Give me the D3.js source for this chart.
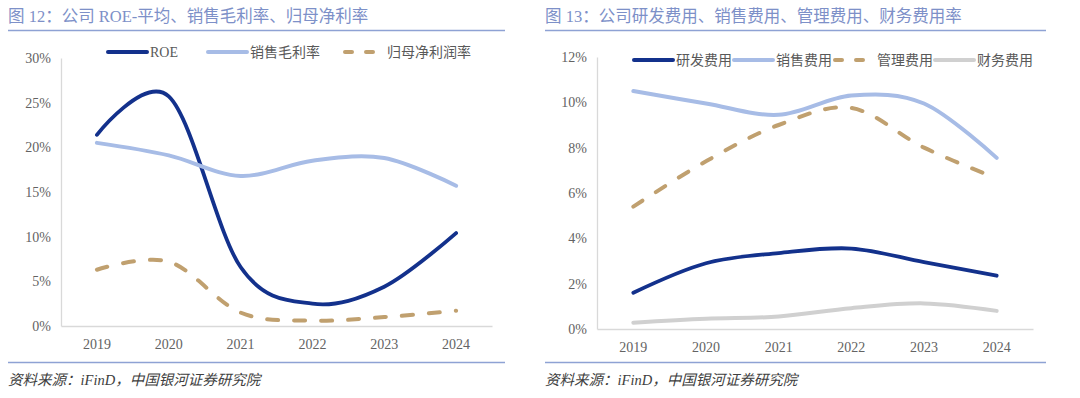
<!DOCTYPE html>
<html>
<head>
<meta charset="utf-8">
<script src="https://cdn.jsdelivr.net/npm/d3@7"></script>
<style>
  body { margin: 0; background: #fff; }
  svg { display: block; }
  .title { font-family: "Liberation Serif", "Noto Sans CJK SC", serif; font-size: 16.5px; fill: #7d90c8; }
  .tick text { font-family: "Liberation Serif", "DejaVu Serif", serif; font-size: 14px; fill: #636363; }
  .legend text { font-family: "Liberation Serif", "Noto Sans CJK SC", serif; font-size: 14px; fill: #595959; }
  .source { font-family: "Liberation Serif", "Noto Sans CJK SC", serif; font-size: 14.5px; font-style: italic; fill: #404040; }
</style>
</head>
<body>
<svg id="chart" width="1080" height="398"></svg>
<script>
// shared categories
var years = ["2019", "2020", "2021", "2022", "2023", "2024"];

// figure 12
var roe = [21.4, 25.7, 6.6, 2.5, 4.4, 10.4];
var grossMargin = [20.5, 19.1, 16.8, 18.5, 18.8, 15.7];
var netMargin = [6.3, 7.2, 1.5, 0.6, 1.0, 1.7];
var ticks12 = [0, 5, 10, 15, 20, 25, 30];

// figure 13
var rnd = [1.6, 2.9, 3.35, 3.55, 2.95, 2.35];
var selling = [10.5, 9.95, 9.45, 10.3, 9.95, 7.55];
var admin = [5.4, 7.4, 9.0, 9.75, 8.0, 6.65];
var finance = [0.28, 0.45, 0.55, 0.92, 1.13, 0.8];
var ticks13 = [0, 2, 4, 6, 8, 10, 12];

var NAVY = "#13318c", LIGHT = "#a7bce6", TAN = "#c0a06f", GREY = "#d0d0d0";

var svg = d3.select("#chart");

function panel(opt) {
  var g = svg.append("g");

  g.append("text").attr("class", "title")
    .attr("x", opt.left).attr("y", 22).text(opt.title);
  g.append("line").attr("x1", opt.left).attr("x2", opt.right)
    .attr("y1", 30.5).attr("y2", 30.5).attr("stroke", "#8ea2d4").attr("stroke-width", 1.3);
  g.append("line").attr("x1", opt.left).attr("x2", opt.right)
    .attr("y1", 362.5).attr("y2", 362.5).attr("stroke", "#8ea2d4").attr("stroke-width", 1.3);
  g.append("text").attr("class", "source")
    .attr("x", opt.left).attr("y", 385).text("资料来源：iFinD，中国银河证券研究院");

  var x = d3.scaleBand().domain(years).range([opt.x0, opt.x1]);
  var y = d3.scaleLinear().domain(d3.extent(opt.ticks)).range([opt.y0, opt.y1]);

  // axes
  var xAxis = d3.axisBottom(x).tickSize(0).tickPadding(13);
  var gx = g.append("g").attr("transform", "translate(0," + opt.y0 + ")").call(xAxis);
  gx.select(".domain").attr("stroke", "#d9d9d9").attr("stroke-width", 1.3);

  var yAxis = d3.axisLeft(y).tickValues(opt.ticks).tickSize(0).tickPadding(10)
    .tickFormat(function (d) { return d + "%"; });
  var gy = g.append("g").attr("transform", "translate(" + opt.x0 + ",0)").call(yAxis);
  gy.select(".domain").attr("stroke", "#d9d9d9").attr("stroke-width", 1.3);

  var line = d3.line()
    .x(function (d, i) { return x(years[i]) + x.bandwidth() / 2; })
    .y(function (d) { return y(d); })
    .curve(d3.curveCardinal.tension(0));

  opt.series.forEach(function (s) {
    g.append("path").datum(s.values)
      .attr("d", line)
      .attr("fill", "none")
      .attr("stroke", s.color)
      .attr("stroke-width", s.width)
      .attr("stroke-linecap", "round")
      .attr("stroke-dasharray", s.dash ? "11,16" : null);
  });

  // legend
  var lg = g.append("g").attr("class", "legend");
  opt.series.forEach(function (s, i) {
    var lx = opt.legendX[i];
    lg.append("line").attr("x1", lx).attr("x2", lx + 39)
      .attr("y1", opt.legendY).attr("y2", opt.legendY)
      .attr("stroke", s.color).attr("stroke-width", 4)
      .attr("stroke-linecap", "round")
      .attr("stroke-dasharray", s.dash ? "7,14" : null);
    lg.append("text").attr("x", lx + 42).attr("y", opt.legendY + 5).text(s.name);
  });
}

panel({
  title: "图 12：公司 ROE-平均、销售毛利率、归母净利率",
  left: 8, right: 505,
  x0: 61, x1: 492, y0: 326, y1: 58,
  ticks: ticks12,
  legendY: 52,
  legendX: [108, 208, 345],
  series: [
    { name: "ROE", values: roe, color: NAVY, width: 3.8 },
    { name: "销售毛利率", values: grossMargin, color: LIGHT, width: 4 },
    { name: "归母净利润率", values: netMargin, color: TAN, width: 4, dash: true }
  ]
});

panel({
  title: "图 13：公司研发费用、销售费用、管理费用、财务费用率",
  left: 545, right: 1046,
  x0: 597, x1: 1033, y0: 329, y1: 57,
  ticks: ticks13,
  legendY: 60,
  legendX: [634, 734, 835, 935],
  series: [
    { name: "研发费用", values: rnd, color: NAVY, width: 3.8 },
    { name: "销售费用", values: selling, color: LIGHT, width: 4 },
    { name: "管理费用", values: admin, color: TAN, width: 4, dash: true },
    { name: "财务费用", values: finance, color: GREY, width: 4 }
  ]
});
</script>
</body>
</html>
